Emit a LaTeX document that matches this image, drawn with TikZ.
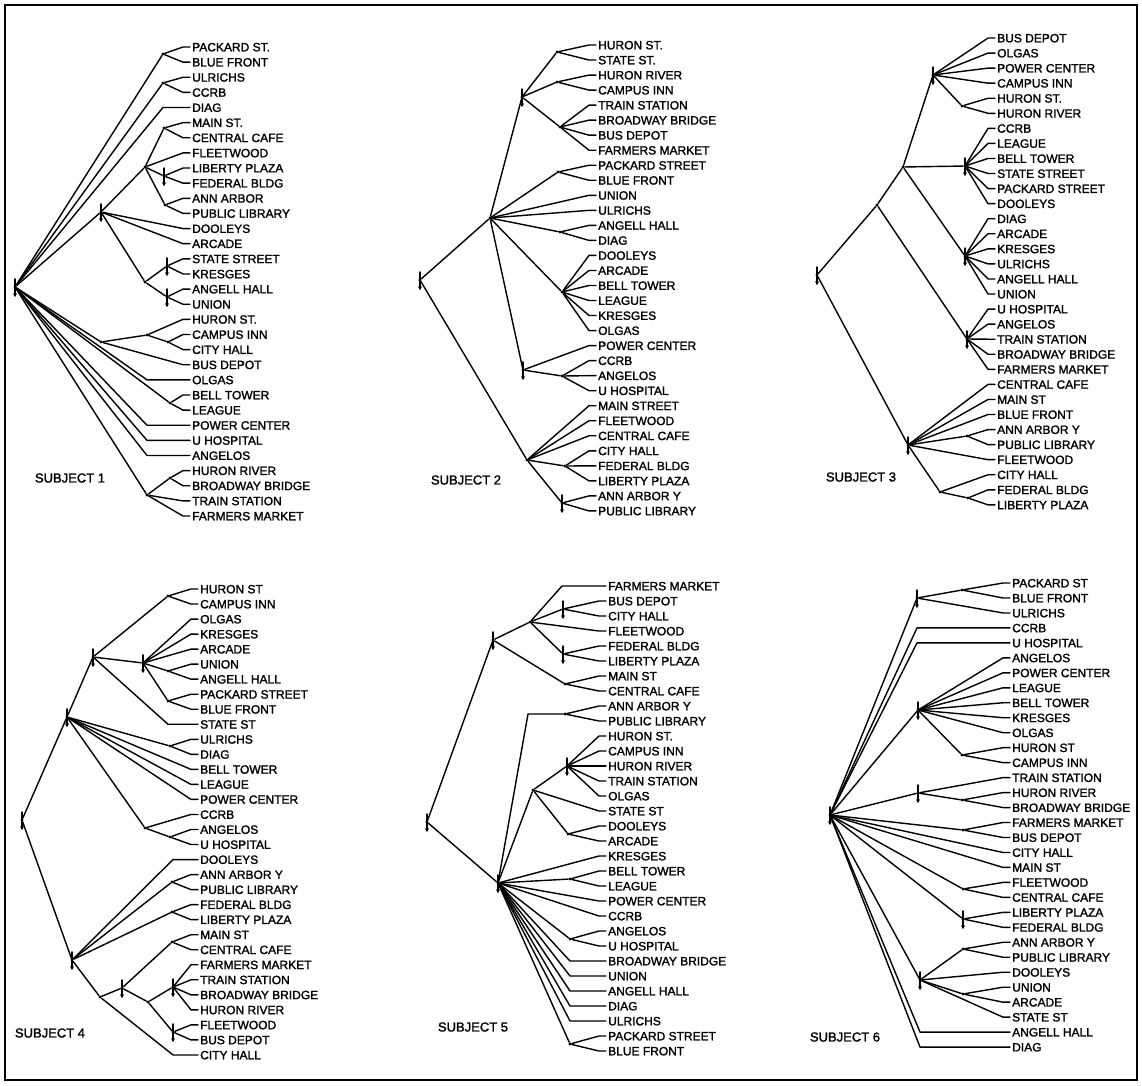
\documentclass[tikz,border=0pt]{standalone}
\usepackage{fontspec}
\setmainfont{Liberation Sans}
\newfontfamily\sitefont{Liberation Sans}[FakeBold=1.6]
\tikzset{
  tr/.style={line width=1.4pt, line cap=round, line join=round},
  dot/.style={circle, fill, inner sep=0pt, minimum size=3.4pt},
  site/.style={anchor=west, inner xsep=2pt, inner ysep=0pt, text height=8.6pt, text depth=0pt,
               font=\sitefont\fontsize{12}{12}\selectfont},
  subj/.style={font=\sitefont\fontsize{13}{13}\selectfont},
}

\begin{document}
\begin{tikzpicture}[x=1pt, y=-1pt]
\useasboundingbox (0,0) rectangle (1142,1085);
\draw[line width=1.4pt] (5,5) rectangle (1137,1080);

% subject 1
\foreach \t [count=\i] in {PACKARD ST., BLUE FRONT, ULRICHS, CCRB, DIAG, MAIN ST., CENTRAL CAFE,
    FLEETWOOD, LIBERTY PLAZA, FEDERAL BLDG, ANN ARBOR, PUBLIC LIBRARY, DOOLEYS, ARCADE,
    STATE STREET, KRESGES, ANGELL HALL, UNION, HURON ST., CAMPUS INN, CITY HALL, BUS DEPOT,
    OLGAS, BELL TOWER, LEAGUE, POWER CENTER, U HOSPITAL, ANGELOS, HURON RIVER,
    BROADWAY BRIDGE, TRAIN STATION, FARMERS MARKET}
  \node[site] (s1-\i) at (190, {47+15.13*(\i-1)}) {\t};
\foreach \n/\x/\y in {r/15/287, a/163/54, b/163/83, c/101/212, d/145/167, e/164/128, f/164/176,
    h/165/205, g/145/282, i/167/266, j/167/297, k/101/342, l/147/335, m/168/342, n/170/403,
    o/147/495, p/170/478}
  \node[dot] (s1\n) at (\x,\y) {};
\foreach \u/\v in {r/a, r/b, r/c, r/k, r/n, r/o, c/d, c/g, d/e, d/f, d/h, g/i, g/j, k/l, l/m, o/p}
  \draw[tr] (s1\u) -- (s1\v);
\foreach \u/\c in {a/1, a/2, b/3, b/4, e/6, e/7, d/8, f/9, f/10, h/11, h/12, c/13, c/14, i/15,
    i/16, j/17, j/18, l/19, m/20, m/21, k/22, n/24, n/25, p/29, p/30, o/31, o/32}
  \draw[tr] (s1\u) -- ([xshift=-7pt]s1-\c.west) -- (s1-\c.west);
\foreach \u/\c/\l in {r/5/27, r/23/43, r/26/43, r/27/43, r/28/43}
  \draw[tr] (s1\u) -- ([xshift=-\l pt]s1-\c.west) -- (s1-\c.west);
\foreach \n in {r, c, f, i, j} {
  \draw[tr] ([yshift=8pt]s1\n.center) -- ([yshift=-9pt]s1\n.center);
  \fill ([yshift=-7pt]s1\n.center) circle (1.8pt);
}
\node[subj] (subj1) at (70,478) {SUBJECT 1};

% subject 2
\foreach \t [count=\i] in {HURON ST., STATE ST., HURON RIVER, CAMPUS INN, TRAIN STATION,
    BROADWAY BRIDGE, BUS DEPOT, FARMERS MARKET, PACKARD STREET, BLUE FRONT, UNION, ULRICHS,
    ANGELL HALL, DIAG, DOOLEYS, ARCADE, BELL TOWER, LEAGUE, KRESGES, OLGAS, POWER CENTER, CCRB,
    ANGELOS, U HOSPITAL, MAIN STREET, FLEETWOOD, CENTRAL CAFE, CITY HALL, FEDERAL BLDG,
    LIBERTY PLAZA, ANN ARBOR Y, PUBLIC LIBRARY}
  \node[site] (s2-\i) at (596, {45+15.03*(\i-1)}) {\t};
\foreach \n/\x/\y in {r/420/280, s/490/218, u/522/97, u1/557/52, u2/557/82, u3/560/127,
    v/558/172, y/560/232, w/562/292, z/523/370, z1/562/376, t/527/460, t1/565/466, t2/562/503}
  \node[dot] (s2\n) at (\x,\y) {};
\foreach \u/\v in {r/s, r/t, s/u, s/v, s/y, s/w, s/z, u/u1, u/u2, u/u3, z/z1, t/t1, t/t2}
  \draw[tr] (s2\u) -- (s2\v);
\foreach \u/\c in {u1/1, u1/2, u2/3, u2/4, u3/5, u3/6, u3/7, u3/8, v/9, v/10, s/11, s/12, y/13,
    y/14, w/15, w/16, w/17, w/18, w/19, w/20, z/21, z1/22, z1/23, z1/24, t/25, t/26, t/27,
    t1/28, t1/29, t1/30, t2/31, t2/32}
  \draw[tr] (s2\u) -- ([xshift=-7pt]s2-\c.west) -- (s2-\c.west);
\foreach \n in {r, u, z, t2} {
  \draw[tr] ([yshift=8pt]s2\n.center) -- ([yshift=-9pt]s2\n.center);
  \fill ([yshift=-7pt]s2\n.center) circle (1.8pt);
}
\node[subj] (subj2) at (466,480) {SUBJECT 2};

% subject 3
\foreach \t [count=\i] in {BUS DEPOT, OLGAS, POWER CENTER, CAMPUS INN, HURON ST., HURON RIVER,
    CCRB, LEAGUE, BELL TOWER, STATE STREET, PACKARD STREET, DOOLEYS, DIAG, ARCADE, KRESGES,
    ULRICHS, ANGELL HALL, UNION, U HOSPITAL, ANGELOS, TRAIN STATION, BROADWAY BRIDGE,
    FARMERS MARKET, CENTRAL CAFE, MAIN ST, BLUE FRONT, ANN ARBOR Y, PUBLIC LIBRARY, FLEETWOOD,
    CITY HALL, FEDERAL BLDG, LIBERTY PLAZA}
  \node[site] (s3-\i) at (995, {38+15.06*(\i-1)}) {\t};
\foreach \n/\x/\y in {r/817/275, a/877/205, c/903/167, g/933/75, g1/962/106, h/965/166,
    i/965/256, f/967/339, b/908/445, b1/967/436, b2/940/492, b3/968/498}
  \node[dot] (s3\n) at (\x,\y) {};
\foreach \u/\v in {r/a, r/b, a/c, a/f, c/g, c/h, c/i, g/g1, b/b1, b/b2, b2/b3}
  \draw[tr] (s3\u) -- (s3\v);
\foreach \u/\c in {g/1, g/2, g/3, g/4, g1/5, g1/6, h/7, h/8, h/9, h/10, h/11, h/12, i/13, i/14,
    i/15, i/16, i/17, i/18, f/19, f/20, f/21, f/22, f/23, b/24, b/25, b/26, b1/27, b1/28, b/29,
    b2/30, b3/31, b3/32}
  \draw[tr] (s3\u) -- ([xshift=-7pt]s3-\c.west) -- (s3-\c.west);
\foreach \n in {r, g, h, i, f, b} {
  \draw[tr] ([yshift=8pt]s3\n.center) -- ([yshift=-9pt]s3\n.center);
  \fill ([yshift=-7pt]s3\n.center) circle (1.8pt);
}
\node[subj] (subj3) at (861,477) {SUBJECT 3};

% subject 4
\foreach \t [count=\i] in {HURON ST, CAMPUS INN, OLGAS, KRESGES, ARCADE, UNION, ANGELL HALL,
    PACKARD STREET, BLUE FRONT, STATE ST, ULRICHS, DIAG, BELL TOWER, LEAGUE, POWER CENTER, CCRB,
    ANGELOS, U HOSPITAL, DOOLEYS, ANN ARBOR Y, PUBLIC LIBRARY, FEDERAL BLDG, LIBERTY PLAZA,
    MAIN ST, CENTRAL CAFE, FARMERS MARKET, TRAIN STATION, BROADWAY BRIDGE, HURON RIVER,
    FLEETWOOD, BUS DEPOT, CITY HALL}
  \node[site] (s4-\i) at (198, {589+15.03*(\i-1)}) {\t};
\foreach \n/\x/\y in {r/22/820, a/67/717, c/93/657, g/168/596, i/143/663, i1/168/671,
    i2/168/701, e/170/746, f/145/828, f1/170/837, b/72/960, j/172/882, k/172/912, n/100/997,
    m/122/988, o/172/942, p/148/1002, q/173/987, s/173/1032}
  \node[dot] (s4\n) at (\x,\y) {};
\foreach \u/\v in {r/a, r/b, a/c, a/e, a/f, c/g, c/i, i/i1, i/i2, f/f1, b/j, b/k, b/n, n/m,
    m/o, m/p, p/q, p/s}
  \draw[tr] (s4\u) -- (s4\v);
\foreach \u/\c in {g/1, g/2, i/3, i/4, i/5, i1/6, i1/7, i2/8, i2/9, e/11, e/12, a/13, a/14,
    a/15, f/16, f1/17, f1/18, j/20, j/21, k/22, k/23, o/24, o/25, q/26, q/27, q/28, q/29, s/30,
    s/31}
  \draw[tr] (s4\u) -- ([xshift=-7pt]s4-\c.west) -- (s4-\c.west);
\foreach \u/\c/\l in {c/10/30, b/19/25, n/32/25}
  \draw[tr] (s4\u) -- ([xshift=-\l pt]s4-\c.west) -- (s4-\c.west);
\foreach \n in {r, a, c, i, b, m, q, s} {
  \draw[tr] ([yshift=8pt]s4\n.center) -- ([yshift=-9pt]s4\n.center);
  \fill ([yshift=-7pt]s4\n.center) circle (1.8pt);
}
\node[subj] (subj4) at (50,1033) {SUBJECT 4};

% subject 5
\foreach \t [count=\i] in {FARMERS MARKET, BUS DEPOT, CITY HALL, FLEETWOOD, FEDERAL BLDG,
    LIBERTY PLAZA, MAIN ST, CENTRAL CAFE, ANN ARBOR Y, PUBLIC LIBRARY, HURON ST., CAMPUS INN,
    HURON RIVER, TRAIN STATION, OLGAS, STATE ST, DOOLEYS, ARCADE, KRESGES, BELL TOWER, LEAGUE,
    POWER CENTER, CCRB, ANGELOS, U HOSPITAL, BROADWAY BRIDGE, UNION, ANGELL HALL, DIAG,
    ULRICHS, PACKARD STREET, BLUE FRONT}
  \node[site] (s5-\i) at (606, {586+15*(\i-1)}) {\t};
\foreach \n/\x/\y in {r/427/822, a/493/640, c/530/622, d/563/609, e/563/654, f/565/684,
    b/498/883, g/565/714, h/533/790, i/567/766, j/568/834, k/570/879, l/570/939, m/570/1044}
  \node[dot] (s5\n) at (\x,\y) {};
\foreach \u/\v in {r/a, r/b, a/c, a/f, c/d, c/e, b/h, h/i, h/j, b/k, b/l, b/m}
  \draw[tr] (s5\u) -- (s5\v);
\draw[tr] (s5b) -- ([xshift=-37pt]s5g.center) -- (s5g);
\foreach \u/\c in {c/4, d/2, d/3, e/5, e/6, f/7, f/8, g/9, g/10, i/11, i/12, i/13, i/14, i/15,
    h/16, j/17, j/18, b/19, k/20, k/21, b/22, b/23, l/24, l/25, m/31, m/32}
  \draw[tr] (s5\u) -- ([xshift=-7pt]s5-\c.west) -- (s5-\c.west);
\foreach \u/\c/\l in {c/1/44, b/26/36, b/27/36, b/28/36, b/29/36, b/30/36}
  \draw[tr] (s5\u) -- ([xshift=-\l pt]s5-\c.west) -- (s5-\c.west);
\foreach \n in {r, a, d, e, i, b} {
  \draw[tr] ([yshift=8pt]s5\n.center) -- ([yshift=-9pt]s5\n.center);
  \fill ([yshift=-7pt]s5\n.center) circle (1.8pt);
}
\node[subj] (subj5) at (473,1027) {SUBJECT 5};

% subject 6
\foreach \t [count=\i] in {PACKARD ST, BLUE FRONT, ULRICHS, CCRB, U HOSPITAL, ANGELOS,
    POWER CENTER, LEAGUE, BELL TOWER, KRESGES, OLGAS, HURON ST, CAMPUS INN, TRAIN STATION,
    HURON RIVER, BROADWAY BRIDGE, FARMERS MARKET, BUS DEPOT, CITY HALL, MAIN ST, FLEETWOOD,
    CENTRAL CAFE, LIBERTY PLAZA, FEDERAL BLDG, ANN ARBOR Y, PUBLIC LIBRARY, DOOLEYS, UNION,
    ARCADE, STATE ST, ANGELL HALL, DIAG}
  \node[site] (s6-\i) at (1010, {583+14.97*(\i-1)}) {\t};
\foreach \n/\x/\y in {r/830/815, a/917/598, a1/962/590, b/918/710, b1/962/755, c/918/793,
    c1/962/800, d/963/830, e/963/889, f/963/919, g/920/980, g1/963/949, g2/963/994}
  \node[dot] (s6\n) at (\x,\y) {};
\foreach \u/\v in {r/a, r/b, r/c, r/d, r/e, r/f, r/g, a/a1, b/b1, c/c1, g/g1, g/g2}
  \draw[tr] (s6\u) -- (s6\v);
\foreach \u/\c in {a1/1, a1/2, a/3, b/6, b/7, b/8, b/9, b/10, b/11, b1/12, b1/13, c/14, c1/15,
    c1/16, d/17, d/18, r/19, r/20, e/21, e/22, f/23, f/24, g1/25, g1/26, g/27, g2/28, g2/29,
    g/30}
  \draw[tr] (s6\u) -- ([xshift=-7pt]s6-\c.west) -- (s6-\c.west);
\foreach \u/\c/\l in {r/4/93, r/5/93, r/31/90, r/32/90}
  \draw[tr] (s6\u) -- ([xshift=-\l pt]s6-\c.west) -- (s6-\c.west);
\foreach \n in {r, a, b, c, f, g} {
  \draw[tr] ([yshift=8pt]s6\n.center) -- ([yshift=-9pt]s6\n.center);
  \fill ([yshift=-7pt]s6\n.center) circle (1.8pt);
}
\node[subj] (subj6) at (845,1037) {SUBJECT 6};
\end{tikzpicture}
\end{document}
